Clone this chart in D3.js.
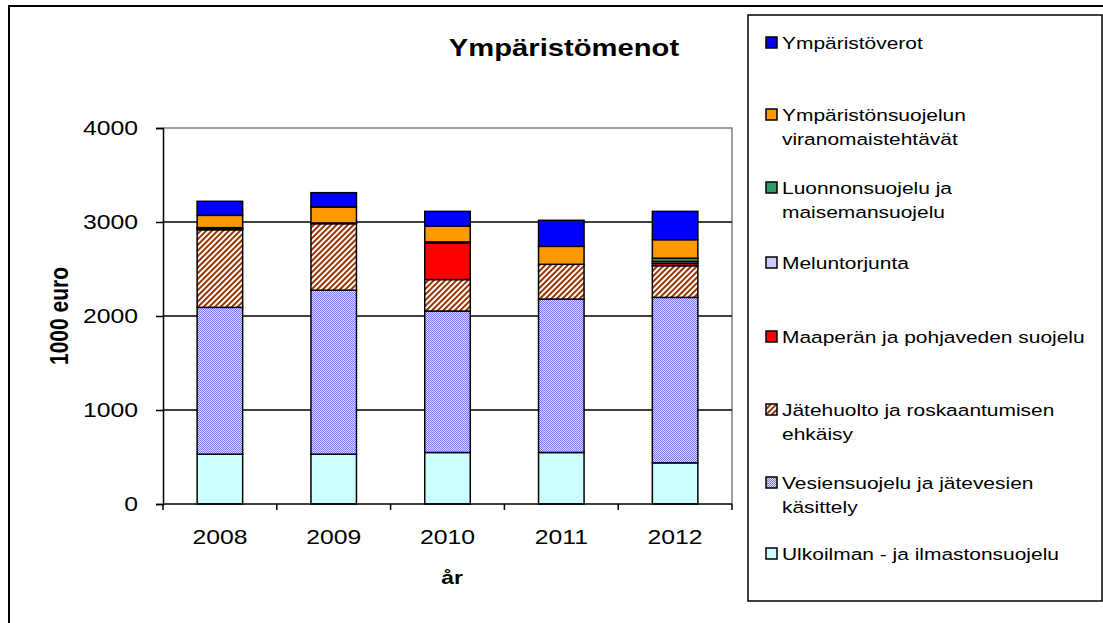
<!DOCTYPE html>
<html>
<head>
<meta charset="utf-8">
<script src="https://d3js.org/d3.v7.min.js"></script>
<style>
  body { margin: 0; background: #fff; }
  svg text { font-family: "Liberation Sans", Arial, sans-serif; fill: #000; }
</style>
</head>
<body>
<div id="chart"></div>
<script>
  // values (1000 euro)
  const years = ["2008", "2009", "2010", "2011", "2012"];
  const ulkoilma = [530, 530, 548, 548, 438];
  const vesiensuojelu = [1562, 1745, 1505, 1632, 1760];
  const jatehuolto = [826, 707, 335, 370, 337];
  const maapera = [12, 0, 390, 0, 25];
  const meluntorjunta = [0, 0, 0, 0, 20];
  const luonnonsuojelu = [10, 8, 10, 0, 35];
  const viranomais = [131, 170, 169, 191, 197];
  const verot = [149, 152, 156, 277, 301];
  const yTicks = [0, 1000, 2000, 3000, 4000];

  // bottom to top stacking order
  const series = [
    { key: "ulko", name: ["Ulkoilman - ja ilmastonsuojelu"], values: ulkoilma, fill: "#CCFFFF" },
    { key: "vesi", name: ["Vesiensuojelu ja jätevesien", "käsittely"], values: vesiensuojelu, fill: "url(#checker)" },
    { key: "jate", name: ["Jätehuolto ja roskaantumisen", "ehkäisy"], values: jatehuolto, fill: "url(#hatch)" },
    { key: "maa", name: ["Maaperän ja pohjaveden suojelu"], values: maapera, fill: "#FF0000" },
    { key: "melu", name: ["Meluntorjunta"], values: meluntorjunta, fill: "#CCCCFF" },
    { key: "luonto", name: ["Luonnonsuojelu ja", "maisemansuojelu"], values: luonnonsuojelu, fill: "#339966" },
    { key: "viran", name: ["Ympäristönsuojelun", "viranomaistehtävät"], values: viranomais, fill: "#FF9900" },
    { key: "verot", name: ["Ympäristöverot"], values: verot, fill: "#0000FF" }
  ];

  const W = 1103, H = 623;
  const plot = { left: 163, right: 732, top: 128, bottom: 504 };
  const sx = 1.27; // the source text is stretched sideways

  const svg = d3.select("#chart").append("svg")
    .attr("width", W).attr("height", H);

  function label(x, y, str, size, anchor, bold) {
    return svg.append("text")
      .attr("transform", `translate(${x},${y}) scale(${sx},1)`)
      .attr("text-anchor", anchor)
      .style("font-size", size + "px")
      .style("font-weight", bold ? "bold" : "normal")
      .text(str);
  }

  const defs = svg.append("defs");
  const chk = defs.append("pattern").attr("id", "checker")
    .attr("patternUnits", "userSpaceOnUse").attr("width", 2).attr("height", 2);
  chk.append("rect").attr("width", 2).attr("height", 2).attr("fill", "#DCDCFF");
  chk.append("rect").attr("width", 1).attr("height", 1).attr("fill", "#7878F4");
  chk.append("rect").attr("x", 1).attr("y", 1).attr("width", 1).attr("height", 1).attr("fill", "#7878F4");

  const hatch = defs.append("pattern").attr("id", "hatch")
    .attr("patternUnits", "userSpaceOnUse").attr("width", 4).attr("height", 4)
    .attr("patternTransform", "rotate(45)");
  hatch.append("rect").attr("width", 4).attr("height", 4).attr("fill", "#fff");
  hatch.append("rect").attr("width", 2).attr("height", 4).attr("fill", "#993300");

  // outer frame
  svg.append("rect").attr("x", 9).attr("y", 6).attr("width", 1300).attr("height", 800)
    .attr("fill", "none").attr("stroke", "#000").attr("stroke-width", 2);

  const x = d3.scaleBand().domain(years).range([plot.left, plot.right]).paddingInner(0.6).paddingOuter(0.3);
  const xb = d3.scaleBand().domain(years).range([plot.left, plot.right]);
  const y = d3.scaleLinear().domain([0, 4000]).range([plot.bottom, plot.top]);

  // plot area border (grey) and gridlines
  svg.append("path")
    .attr("d", `M${plot.left},${plot.top}H${plot.right}V${plot.bottom}`)
    .attr("fill", "none").attr("stroke", "#808080").attr("stroke-width", 1.5);
  svg.append("g").selectAll("line").data(yTicks.filter(t => t > 0 && t < 4000)).join("line")
    .attr("x1", plot.left).attr("x2", plot.right)
    .attr("y1", d => y(d)).attr("y2", d => y(d))
    .attr("stroke", "#000").attr("stroke-width", 1.5);

  // stacked bars
  const table = years.map((yr, i) => {
    const row = { year: yr };
    series.forEach(s => row[s.key] = s.values[i]);
    return row;
  });
  const stack = d3.stack().keys(series.map(s => s.key))(table);
  svg.append("g").selectAll("g").data(stack).join("g")
    .attr("fill", (d, i) => series[i].fill)
    .selectAll("rect").data(d => d.filter(p => p[1] - p[0] > 0)).join("rect")
    .attr("x", d => x(d.data.year))
    .attr("width", x.bandwidth())
    .attr("y", d => y(d[1]))
    .attr("height", d => y(d[0]) - y(d[1]))
    .attr("stroke", "#000").attr("stroke-width", 1.5);

  // y axis
  const yAxis = svg.append("g").attr("transform", `translate(${plot.left},0)`)
    .call(d3.axisLeft(y).tickValues(yTicks).tickSize(7).tickFormat(""));
  yAxis.select(".domain").attr("stroke", "#000").attr("stroke-width", 1.5);
  yAxis.selectAll(".tick line").attr("stroke", "#000").attr("stroke-width", 1.5);
  yTicks.forEach(t => label(138, y(t) + 7, String(t), 19.5, "end", false));

  // x axis
  const xg = svg.append("g").attr("transform", `translate(0,${plot.bottom})`);
  xg.append("line").attr("x1", plot.left).attr("x2", plot.right)
    .attr("stroke", "#000").attr("stroke-width", 1.5);
  xg.selectAll("line.tk").data(years.concat(["end"])).join("line").attr("class", "tk")
    .attr("x1", d => d === "end" ? plot.right : xb(d))
    .attr("x2", d => d === "end" ? plot.right : xb(d))
    .attr("y1", 0).attr("y2", 6).attr("stroke", "#000").attr("stroke-width", 1.5);
  years.forEach(yr => label(xb(yr) + xb.bandwidth() / 2, 544, yr, 19.5, "middle", false));

  // titles
  label(564, 56, "Ympäristömenot", 23, "middle", true);
  svg.append("text").attr("transform", "translate(68,316) rotate(-90) scale(1,1.27)")
    .attr("text-anchor", "middle")
    .style("font-size", "21px").style("font-weight", "bold").text("1000 euro");
  label(452, 584, "år", 18, "middle", true);

  // legend
  svg.append("rect").attr("x", 748).attr("y", 15).attr("width", 354).attr("height", 586)
    .attr("fill", "#fff").attr("stroke", "#000").attr("stroke-width", 1.5);
  const legendY = [43, 115, 188, 263, 337, 410, 483, 554];
  const legendItems = series.slice().reverse();
  const lg = svg.append("g").selectAll("g").data(legendItems).join("g")
    .attr("transform", (d, i) => `translate(0,${legendY[i]})`);
  lg.append("rect").attr("x", 766).attr("y", -6).attr("width", 11).attr("height", 11)
    .attr("fill", d => d.fill).attr("stroke", "#000").attr("stroke-width", 1.5);
  lg.each(function (d) {
    const t = d3.select(this).append("text")
      .attr("transform", `translate(782,6) scale(${sx},1)`)
      .style("font-size", "16.5px");
    d.name.forEach((ln, j) => t.append("tspan").attr("x", 0).attr("dy", j === 0 ? 0 : 24).text(ln));
  });
</script>
</body>
</html>
